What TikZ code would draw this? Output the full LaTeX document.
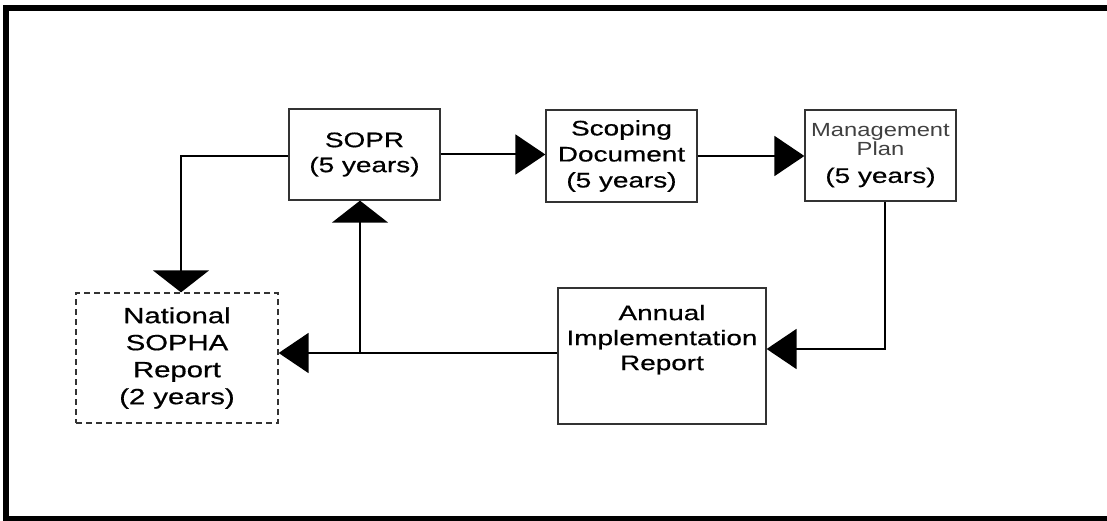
\documentclass[tikz,border=0pt]{standalone}
\usepackage{fontspec}
\setmainfont[FakeBold=0.6,FakeStretch=1.33]{Liberation Sans}
\newfontfamily\widefont[FakeStretch=1.25]{Liberation Sans}
\usetikzlibrary{arrows.meta,positioning}
\newcommand\mgline{\widefont\fontsize{19}{25}\selectfont\color{black!75}}

\begin{document}
\begin{tikzpicture}[x=1pt,y=-1pt]
	\useasboundingbox (0,0) rectangle (1107,521);
	% outer frame
	\draw[line width=6pt] (1107,8) -- (6,8) -- (6,521);
	\draw[line width=5pt] (3,518.5) -- (1107,518.5);
	\begin{scope}[every node/.style={draw=black!80,line width=1.3pt,align=center,inner sep=0pt,font=\fontsize{21}{25}\selectfont}]
		\node[minimum width=151pt,minimum height=91pt] (sopr) at (364.5,154.5) {SOPR\\(5 years)};
		\node[minimum width=151pt,minimum height=92pt] (scope) at (621.5,156) {Scoping\\[1pt]Document\\[1pt](5 years)};
		\node[minimum width=151pt,minimum height=91pt] (plan) at (880.5,155.5) {{\mgline Management}\\[-6pt]{\mgline Plan}\\[2pt](5 years)};
		\node[minimum width=202pt,minimum height=130pt,dashed,dash pattern=on 6pt off 4pt,font=\fontsize{22}{26}\selectfont] (natl) at (177,358) {National\\[1pt]SOPHA\\[1pt]Report\\[1pt](2 years)};
		\node[minimum width=208pt,minimum height=136pt] (annual) at (662,356) {Annual\\Implementation\\Report\\[12pt]\mbox{}};
	\end{scope}
	\coordinate (corner) at (181,156);
	\coordinate (turn) at (885,349);
	\coordinate (fork) at (360,353);
	\begin{scope}[line width=2pt,vtip/.style={-{Triangle[length=22pt,width=56pt]}},htip/.style={-{Triangle[length=30pt,width=40pt]}}]
		\draw[vtip] (sopr.west |- corner) -- (corner) -- (corner |- natl.north);
		\draw[htip] (sopr.east) -- (sopr.east -| scope.west);
		\draw[htip] (scope.east) -- (scope.east -| plan.west);
		\draw[htip] (plan.south -| turn) -- (turn) -- (turn -| annual.east);
		\draw[htip] (annual.west |- fork) -- (fork -| natl.east);
		\draw[vtip] (fork) -- (fork |- sopr.south);
	\end{scope}
\end{tikzpicture}
\end{document}
